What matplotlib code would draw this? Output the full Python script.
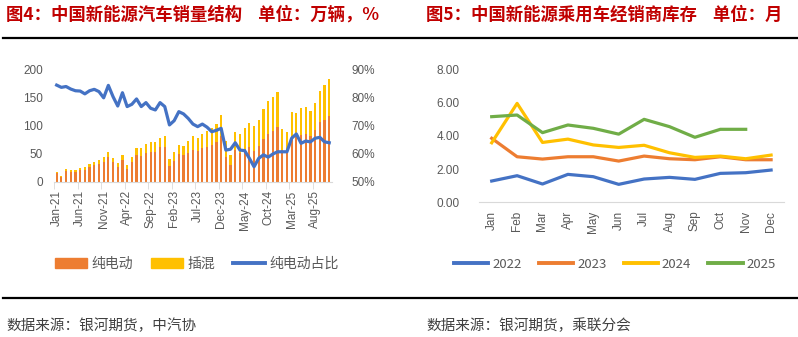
import numpy as np
import matplotlib
matplotlib.use("Agg")
import matplotlib.pyplot as plt
from matplotlib.lines import Line2D
from matplotlib.patches import Patch

plt.rcParams["font.family"] = ["Noto Sans CJK SC", "DejaVu Sans"]

# ---- figure 4: NEV sales split (万辆) and BEV share (%), Jan-21 .. Nov-25
bev = [15.1, 9.2, 18.9, 17.1, 17.9, 21.0, 22.0, 26.4, 29.6, 31.4, 35.9, 44.7,
       34.6, 25.7, 39.5, 22.9, 34.6, 47.3, 45.5, 52.0, 53.9, 53.9, 61.4, 62.4,
       28.6, 37.6, 48.9, 47.1, 52.0, 56.8, 54.3, 59.6, 62.7, 64.8, 70.1, 82.2,
       44.7, 29.4, 56.4, 52.1, 58.4, 61.3, 54.9, 64.2, 76.7, 84.1, 90.6, 96.9,
       57.3, 54.1, 81.0, 82.1, 83.3, 85.7, 81.0, 91.4, 105.5, 110.1, 116.5]
phev = [2.8, 1.8, 3.7, 3.5, 3.8, 4.6, 5.1, 5.7, 6.1, 6.9, 9.1, 8.4,
        8.5, 7.7, 8.9, 7.0, 10.1, 12.3, 13.8, 14.6, 16.9, 17.5, 17.2, 19.0,
        12.2, 14.9, 16.4, 16.5, 19.7, 23.8, 23.7, 25.0, 27.7, 30.8, 32.5, 36.9,
        28.2, 18.3, 31.9, 32.9, 37.1, 43.6, 44.2, 45.8, 52.0, 58.9, 60.6, 62.7,
        37.1, 35.1, 42.7, 40.5, 47.4, 47.2, 45.2, 48.1, 54.9, 61.4, 65.8]
bev_share = [84.3, 83.5, 83.8, 82.9, 82.3, 82.2, 81.2, 82.3, 82.8, 82.0, 79.8, 84.2,
             80.2, 76.9, 81.6, 76.7, 77.5, 79.4, 76.7, 78.1, 76.1, 75.5, 78.1, 76.7,
             70.2, 71.7, 74.9, 74.1, 72.5, 70.5, 69.6, 70.5, 69.4, 67.8, 68.3, 69.0,
             61.3, 61.6, 63.9, 61.3, 61.1, 58.4, 55.4, 58.4, 59.6, 58.8, 59.9, 60.7,
             60.7, 60.7, 65.5, 67.0, 63.7, 64.5, 64.2, 65.5, 65.8, 64.2, 63.9]
month_ticks = ["Jan-21", "Jun-21", "Nov-21", "Apr-22", "Sep-22", "Feb-23",
               "Jul-23", "Dec-23", "May-24", "Oct-24", "Mar-25", "Aug-25"]

# ---- figure 5: NEV passenger car dealer inventory (months)
months = ["Jan", "Feb", "Mar", "Apr", "May", "Jun",
          "Jul", "Aug", "Sep", "Oct", "Nov", "Dec"]
inv_2022 = [1.28, 1.60, 1.10, 1.68, 1.54, 1.08, 1.40, 1.50, 1.38, 1.74, 1.78, 1.94]
inv_2023 = [3.85, 2.74, 2.60, 2.74, 2.74, 2.48, 2.78, 2.62, 2.56, 2.74, 2.56, 2.56]
inv_2024 = [3.58, 5.95, 3.60, 3.80, 3.45, 3.30, 3.43, 2.98, 2.70, 2.78, 2.62, 2.84]
inv_2025 = [5.15, 5.25, 4.19, 4.65, 4.45, 4.10, 4.99, 4.55, 3.91, 4.39, 4.39]

ORANGE = "#ED7D31"
YELLOW = "#FFC000"
BLUE = "#4472C4"
GREEN = "#70AD47"
GRAY = "#595959"
AXIS = "#D9D9D9"
RED = "#C00000"
W, H = 798, 337

fig = plt.figure(figsize=(W / 100, H / 100), dpi=100)


def box(x0, y0, x1, y1):
    return [x0 / W, 1 - y1 / H, (x1 - x0) / W, (y1 - y0) / H]


tick_font = dict(family=["Liberation Sans", "DejaVu Sans"], size=8.5, color=GRAY)

# left chart
ax = fig.add_axes(box(54.3, 69, 331.6, 182))
x = np.arange(len(bev))
ax.bar(x, bev, width=0.45, color=ORANGE)
ax.bar(x, phev, width=0.45, bottom=bev, color=YELLOW)
ax.set_xlim(-0.5, len(bev) - 0.5)
ax.set_ylim(0, 200)
ax.set_yticks([0, 50, 100, 150, 200])
ax.set_xticks(np.arange(0, len(bev), 5))
ax.set_xticklabels(month_ticks, rotation=90, **tick_font)
ax.set_xticks(np.arange(-0.5, len(bev), 5), minor=True)
for lab in ax.get_yticklabels():
    lab.set(**tick_font)
ax.tick_params(axis="x", which="major", length=0, pad=6)
ax.tick_params(axis="x", which="minor", length=5, color=AXIS)
ax.tick_params(axis="y", length=0, pad=8)
for s in ["top", "right", "left"]:
    ax.spines[s].set_visible(False)
ax.spines["bottom"].set_color(AXIS)

ax2 = ax.twinx()
ax2.plot(x, bev_share, color=BLUE, lw=2.3, solid_joinstyle="round")
ax2.set_ylim(50, 90)
ax2.set_yticks([50, 60, 70, 80, 90])
ax2.set_yticklabels([f"{v}%" for v in [50, 60, 70, 80, 90]], **tick_font)
ax2.tick_params(axis="y", length=0, pad=14)
for s in ["top", "right", "left", "bottom"]:
    ax2.spines[s].set_visible(False)

# right chart
bx = fig.add_axes(box(479, 69.3, 783.8, 202.3))
mx = np.arange(len(months))
bx.plot(mx, inv_2022, color=BLUE, lw=2.3, label="2022")
bx.plot(mx, inv_2023, color=ORANGE, lw=2.3, label="2023")
bx.plot(mx, inv_2024, color=YELLOW, lw=2.3, label="2024")
bx.plot(mx[:len(inv_2025)], inv_2025, color=GREEN, lw=2.3, label="2025")
bx.set_xlim(-0.5, 11.5)
bx.set_ylim(0, 8)
bx.set_yticks([0, 2, 4, 6, 8])
bx.set_yticklabels([f"{v:.2f}" for v in [0, 2, 4, 6, 8]], **tick_font)
bx.set_xticks(mx)
bx.set_xticklabels(months, rotation=90, **tick_font)
bx.tick_params(axis="x", length=0, pad=6)
bx.tick_params(axis="y", length=0, pad=14)
for s in ["top", "right", "left"]:
    bx.spines[s].set_visible(False)
bx.spines["bottom"].set_color(AXIS)

# legends
h1 = [Patch(color=ORANGE), Patch(color=YELLOW), Line2D([], [], color=BLUE, lw=2.8)]
fig.legend(h1, ["纯电动", "插混", "纯电动占比"], loc="center",
           bbox_to_anchor=(197 / W, 1 - 264 / H), ncol=3, frameon=False,
           prop=dict(size=10), handlelength=2.3, handleheight=0.65,
           handletextpad=0.3, columnspacing=1.3, labelcolor=GRAY)
h2 = [Line2D([], [], color=c, lw=2.8) for c in [BLUE, ORANGE, YELLOW, GREEN]]
fig.legend(h2, ["2022", "2023", "2024", "2025"], loc="center",
           bbox_to_anchor=(615 / W, 1 - 264 / H), ncol=4, frameon=False,
           prop=dict(size=9.5), handlelength=2.6, handletextpad=0.3,
           columnspacing=1.3, labelcolor=GRAY)

# titles
fig.text(6 / W, 1 - 15 / H, "图4：中国新能源汽车销量结构    单位：万辆，%",
         color=RED, fontsize=12.5, fontweight="bold", va="center")
fig.text(426 / W, 1 - 15 / H, "图5：中国新能源乘用车经销商库存    单位：月",
         color=RED, fontsize=12.5, fontweight="bold", va="center")
fig.add_artist(Line2D([3 / W, 1], [1 - 37.5 / H] * 2, color="black", lw=1.6))
fig.add_artist(Line2D([3 / W, 1], [1 - 297.5 / H] * 2, color="black", lw=1.6))

# sources
fig.text(6 / W, 1 - 326 / H, "数据来源：银河期货，中汽协", color="#404040",
         fontsize=10.5, va="center")
fig.text(426 / W, 1 - 326 / H, "数据来源：银河期货，乘联分会", color="#404040",
         fontsize=10.5, va="center")

fig.savefig("out.png", dpi=100)
